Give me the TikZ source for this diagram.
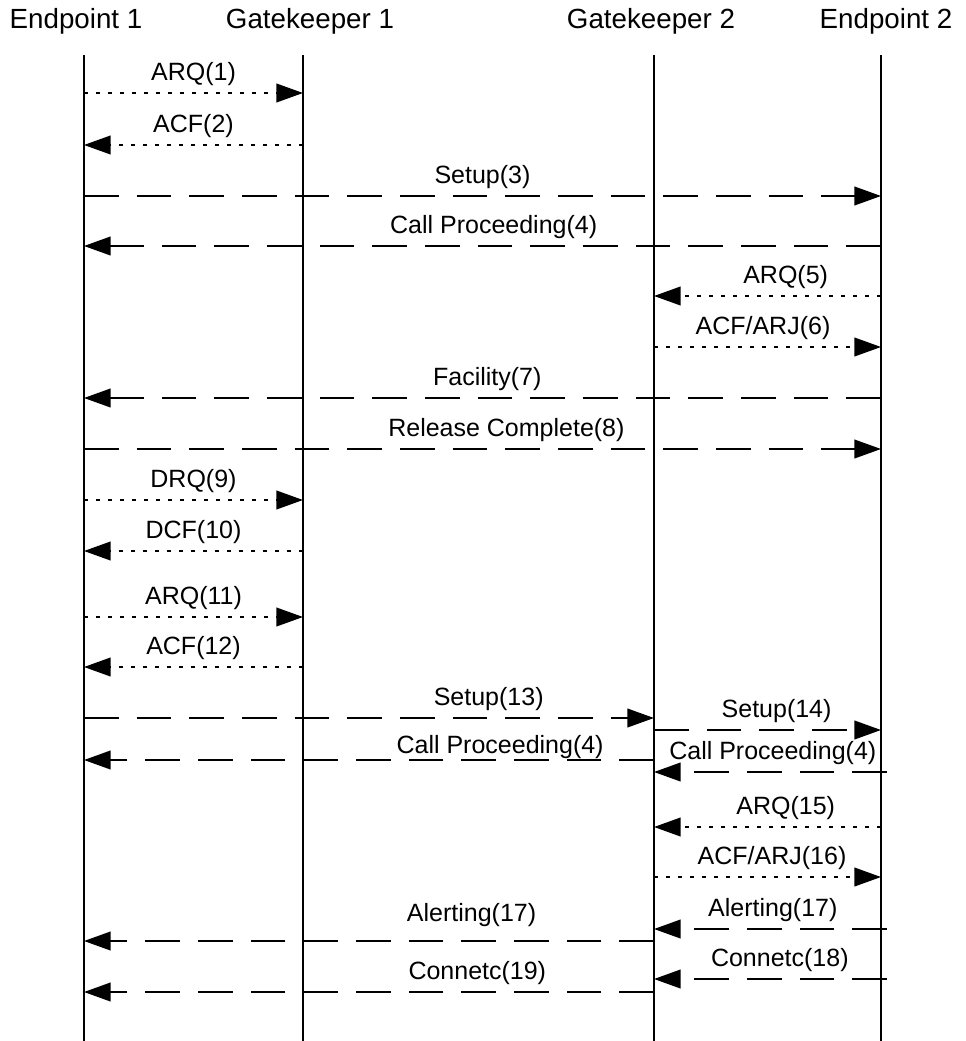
\documentclass[tikz,border=0pt]{standalone}
\usepackage{fontspec}
\setmainfont{Liberation Sans}
\usetikzlibrary{arrows.meta,positioning}
\tikzset{
  >={Triangle[length=20pt,width=14pt]},
  every picture/.style={line width=1.5pt,font=\fontsize{18.75pt}{22pt}\selectfont},
  hd/.style={font=\fontsize{20.8pt}{24pt}\selectfont,anchor=base,inner sep=0pt},
  life/.style={draw=black,line width=1.5pt},
  msgd/.style={->,draw=black,dash pattern=on 26pt off 13.5pt},
  msgp/.style={->,draw=black,dash pattern=on 3pt off 6pt},
  lab/.style={above=5pt,inner sep=0pt},
}
\begin{document}
\begin{tikzpicture}[x=0.75pt,y=-0.75pt]
  \useasboundingbox (0,0) rectangle (965,1041);
  % headers
  \node[hd] (h1) at (76,28.5) {Endpoint 1};
  \node[hd] (h2) at (310,28.5) {Gatekeeper 1};
  \node[hd] (h3) at (651,28.5) {Gatekeeper 2};
  \node[hd] (h4) at (886,28.5) {Endpoint 2};
  % lifelines
  \coordinate (e1) at (84,55);
  \coordinate (g1) at (303,55);
  \coordinate (g2) at (654,55);
  \coordinate (e2) at (881,55);
  \coordinate (e2x) at (887,55);
  \draw[life] (e1) -- (e1 |- 0,1041);
  \draw[life] (g1) -- (g1 |- 0,1041);
  \draw[life] (g2) -- (g2 |- 0,1041);
  \draw[life] (e2) -- (e2 |- 0,1041);
  % messages
  \draw[msgp] (e1 |- 0,93) -- node[lab]{ARQ(1)} (g1 |- 0,93);
  \draw[msgp] (g1 |- 0,145) -- node[lab]{ACF(2)} (e1 |- 0,145);
  \draw[msgd] (e1 |- 0,196) -- node[lab]{Setup(3)} (e2 |- 0,196);
  \draw[msgd] (e2 |- 0,246) -- node[lab,pos=0.486]{Call Proceeding(4)} (e1 |- 0,246);
  \draw[msgp] (e2 |- 0,296) -- node[lab,pos=0.42]{ARQ(5)} (g2 |- 0,296);
  \draw[msgp] (g2 |- 0,347) -- node[lab,pos=0.48]{ACF/ARJ(6)} (e2 |- 0,347);
  \draw[msgd] (e2 |- 0,398) -- node[lab,pos=0.494]{Facility(7)} (e1 |- 0,398);
  \draw[msgd] (e1 |- 0,449) -- node[lab,pos=0.53]{Release Complete(8)} (e2 |- 0,449);
  \draw[msgp] (e1 |- 0,500) -- node[lab]{DRQ(9)} (g1 |- 0,500);
  \draw[msgp] (g1 |- 0,551) -- node[lab]{DCF(10)} (e1 |- 0,551);
  \draw[msgp] (e1 |- 0,617) -- node[lab]{ARQ(11)} (g1 |- 0,617);
  \draw[msgp] (g1 |- 0,667) -- node[lab]{ACF(12)} (e1 |- 0,667);
  \draw[msgd] (e1 |- 0,718) -- node[lab,pos=0.71]{Setup(13)} (g2 |- 0,718);
  \draw[msgd] (g2 |- 0,730) -- node[lab,pos=0.54]{Setup(14)} (e2 |- 0,730);
  \draw[msgd] (g2 |- 0,760) -- node[lab,pos=0.27,yshift=-4.5pt]{Call Proceeding(4)} (e1 |- 0,760);
  \draw[msgd] (e2x |- 0,772) -- node[lab,pos=0.49]{Call Proceeding(4)} (g2 |- 0,772);
  \draw[msgp] (e2 |- 0,827) -- node[lab,pos=0.42]{ARQ(15)} (g2 |- 0,827);
  \draw[msgp] (g2 |- 0,877) -- node[lab,pos=0.52]{ACF/ARJ(16)} (e2 |- 0,877);
  \draw[msgd] (e2x |- 0,929) -- node[lab,pos=0.49]{Alerting(17)} (g2 |- 0,929);
  \draw[msgd] (g2 |- 0,941) -- node[lab,pos=0.32,yshift=5pt]{Alerting(17)} (e1 |- 0,941);
  \draw[msgd] (e2x |- 0,979) -- node[lab,pos=0.46]{Connetc(18)} (g2 |- 0,979);
  \draw[msgd] (g2 |- 0,992) -- node[lab,pos=0.31]{Connetc(19)} (e1 |- 0,992);
\end{tikzpicture}
\end{document}
